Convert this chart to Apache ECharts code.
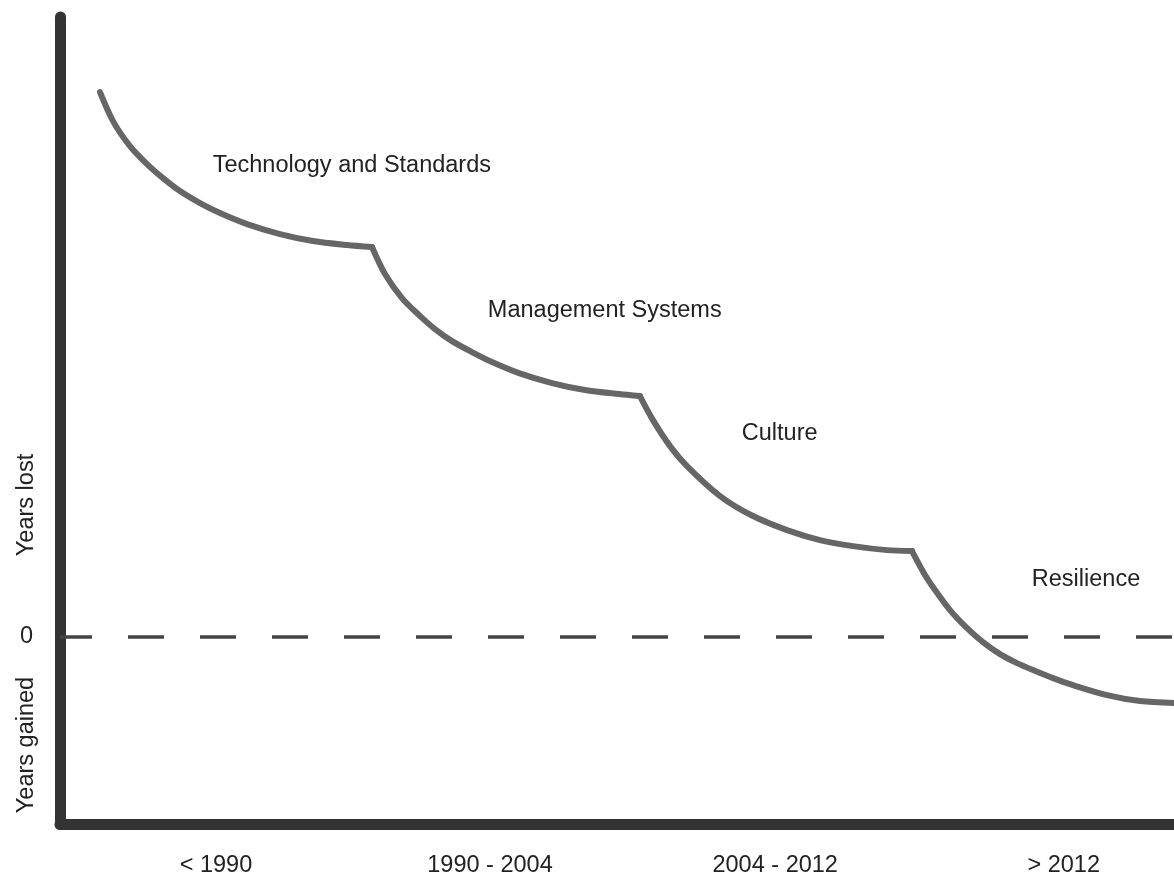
<!DOCTYPE html>
<html>
<head>
<meta charset="utf-8">
<script src="https://cdn.jsdelivr.net/npm/echarts@6/dist/echarts.min.js"></script>
<style>
html,body{margin:0;padding:0;background:#fff;}
#chart{width:1174px;height:882px;}
</style>
</head>
<body>
<div id="chart"></div>
<script>
// x: time (0..100 arbitrary units), y: years lost (+) / gained (-)
var seg1 = [[3.59,54.66],[4.76,51.75],[6.28,49.24],[7.81,47.44],[9.25,46.03],[10.77,44.73],[12.57,43.52],[14.36,42.52],[16.79,41.41],[19.75,40.41],[22.71,39.71],[25.76,39.31],[28.01,39.11]];
var seg2 = [[28.01,39.11],[29.17,36.40],[30.70,33.99],[32.23,32.28],[33.66,30.88],[35.19,29.67],[36.98,28.57],[38.78,27.57],[41.20,26.46],[44.17,25.46],[47.13,24.76],[50.18,24.35],[52.06,24.15]];
var seg3 = [[52.06,24.15],[53.23,21.74],[54.76,19.13],[56.28,17.13],[59.25,14.12],[62.21,12.11],[65.26,10.70],[68.22,9.70],[71.18,9.09],[74.24,8.69],[76.48,8.59]];
var seg4 = [[76.48,8.59],[77.65,6.19],[78.55,4.68],[79.89,2.67],[81.42,0.86],[82.85,-0.54],[84.38,-1.75],[85.91,-2.65],[87.34,-3.35],[89.14,-4.16],[90.93,-4.86],[93.99,-5.86],[96.95,-6.46],[100,-6.66]];

var phaseNames = ['Technology and Standards','Management Systems','Culture','Resilience'];
var phaseLabelX = [26.2, 48.9, 64.6, 92.1];
var phaseLabelY = [47.3, 32.7, 20.4, 5.7];

var xTickLabels = ['< 1990','1990 - 2004','2004 - 2012','> 2012'];
var xTickPos = [14.0, 38.6, 64.2, 90.1];
var yTickPos = [0];

var FONT = 'Liberation Sans, Arial, Helvetica, sans-serif';
var chart = echarts.init(document.getElementById('chart'));

var lineStyle = {color:'#666666', width:6, cap:'round', join:'round'};
function segSeries(d, extra){
  var s = {type:'line', data:d, smooth:0.3, showSymbol:false, symbol:'none', lineStyle:lineStyle, silent:true, z:3};
  if (extra) for (var k in extra) s[k]=extra[k];
  return s;
}

var annData = phaseNames.map(function(n,i){ return {value:[phaseLabelX[i], phaseLabelY[i]], name:n}; });

var option = {
  animation:false,
  backgroundColor:'#ffffff',
  grid:{left:60, right:0, top:17, bottom:58, containLabel:false, outerBoundsMode:'none'},
  xAxis:{
    type:'value', min:0, max:100,
    axisLine:{show:true, onZero:false, lineStyle:{color:'#333333', width:11, cap:'round'}},
    axisTick:{show:false},
    splitLine:{show:false},
    axisLabel:{
      customValues:xTickPos, margin:30, fontSize:23.5, color:'#222',
      fontFamily:FONT,
      formatter:function(v){
        var best=0, bd=1e9;
        for (var i=0;i<xTickPos.length;i++){ var d=Math.abs(xTickPos[i]-v); if(d<bd){bd=d;best=i;} }
        return xTickLabels[best];
      }
    }
  },
  yAxis:{
    type:'value', min:-18.8, max:62.2,
    axisLine:{show:true, onZero:false, lineStyle:{color:'#333333', width:11, cap:'round'}},
    axisTick:{show:false},
    splitLine:{show:false},
    axisLabel:{customValues:yTickPos, margin:27, fontSize:23.5, color:'#222',
      fontFamily:FONT,
      formatter:function(v){ return String(Math.round(v)); }}
  },
  graphic:[
    {type:'text', x:27, y:505, rotation:Math.PI/2, style:{text:'Years lost', fontSize:23.5, fontFamily:FONT, fill:'#222', align:'center', verticalAlign:'middle'}},
    {type:'text', x:27, y:745, rotation:Math.PI/2, style:{text:'Years gained', fontSize:23.5, fontFamily:FONT, fill:'#222', align:'center', verticalAlign:'middle'}}
  ],
  series:[
    segSeries(seg1, {markLine:{
      silent:true, symbol:['none','none'], label:{show:false},
      lineStyle:{color:'#444444', width:3.5, type:[36,36], dashOffset:4},
      data:[{yAxis:0}]
    }}),
    segSeries(seg2),
    segSeries(seg3),
    segSeries(seg4),
    {
      type:'scatter', data:annData, symbolSize:1, itemStyle:{color:'rgba(0,0,0,0)'}, silent:true, z:4,
      label:{show:true, position:'inside', formatter:'{b}', fontSize:23.5, color:'#222222',
        textBorderWidth:0, opacity:1, fontFamily:FONT}
    }
  ]
};
chart.setOption(option);
</script>
</body>
</html>
